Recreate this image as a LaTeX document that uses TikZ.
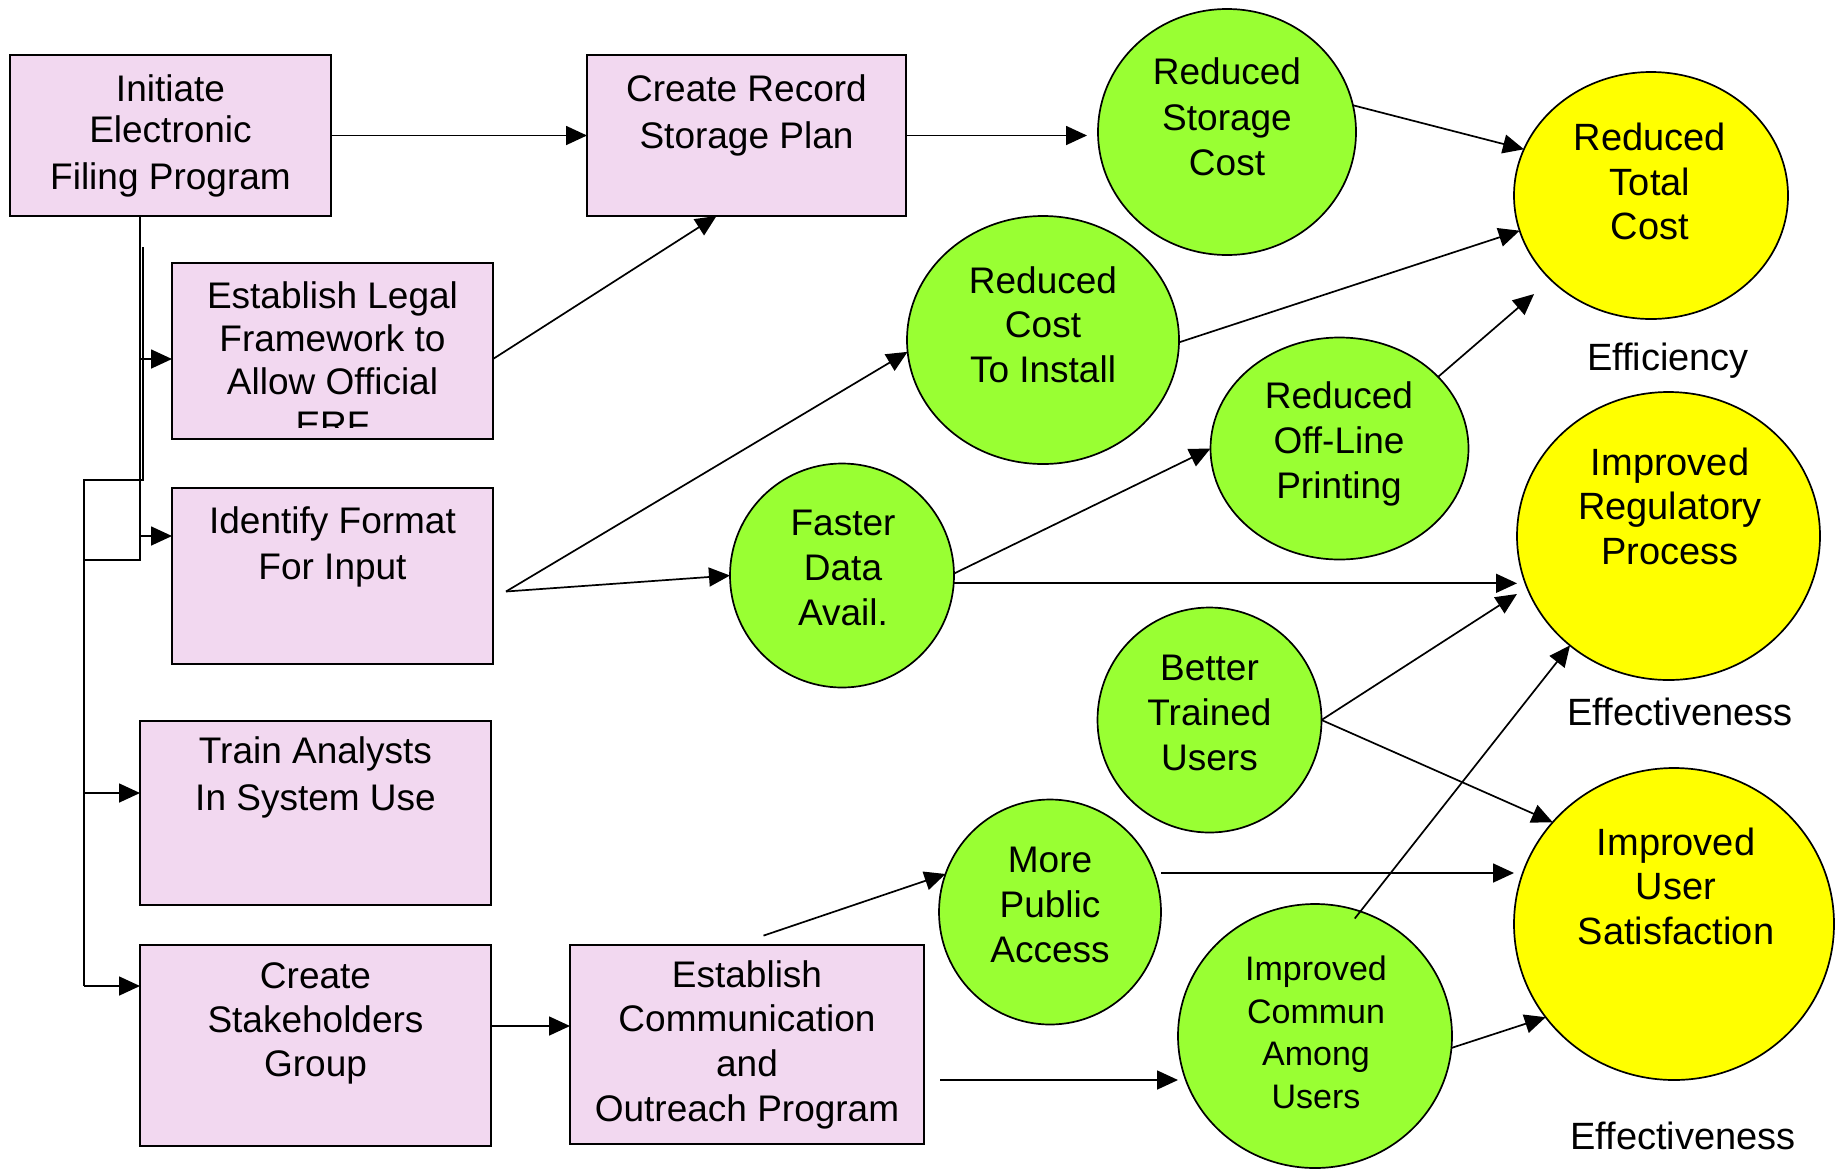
\documentclass[tikz,border=0pt]{standalone}
\usepackage{fontspec}
\setmainfont{Liberation Sans}
\usetikzlibrary{arrows.meta,shapes.geometric}
\definecolor{taskpink}{RGB}{242,216,240}
\definecolor{gainlime}{RGB}{153,255,51}
\definecolor{goalyellow}{RGB}{255,255,0}
\begin{document}
\begin{tikzpicture}[x=1pt,y=-1pt,
  task/.style={draw, fill=taskpink, line width=1.7pt, inner sep=0pt, outer sep=0pt},
  gain/.style={ellipse, draw, fill=gainlime, line width=1.7pt, inner sep=0pt, outer sep=0pt},
  goal/.style={ellipse, draw, fill=goalyellow, line width=1.7pt, inner sep=0pt, outer sep=0pt},
  lbl/.style={align=center, anchor=north, inner sep=0pt, font=\fontsize{37}{#1}\selectfont},
  glbl/.style={align=center, anchor=north, inner sep=0pt, font=\fontsize{38}{#1}\selectfont},
  clbl/.style={align=center, anchor=north, inner sep=0pt, font=\fontsize{34}{#1}\selectfont},
  axis/.style={anchor=base, inner sep=0pt, font=\fontsize{38}{44}\selectfont},
  wire/.style={line width=1.7pt},
  link/.style={line width=1.7pt, -{Triangle[length=21pt,width=19pt]}},
]
\useasboundingbox (0,0) rectangle (1836,1168);

% ---- action boxes ----
\node[task, minimum width=321pt, minimum height=161pt] (init)   at (170.5,135.5) {};
\node[task, minimum width=319pt, minimum height=161pt] (record) at (746.5,135.5) {};
\node[task, minimum width=321pt, minimum height=176pt] (legal)  at (332.5,351) {};
\node[task, minimum width=321pt, minimum height=176pt] (format) at (332.5,576) {};
\node[task, minimum width=351pt, minimum height=184pt] (train)  at (315.5,813) {};
\node[task, minimum width=351pt, minimum height=201pt] (stake)  at (315.5,1045.5) {};
\node[task, minimum width=354pt, minimum height=199pt] (comm)   at (747,1044.5) {};

\node[lbl=41] (init-t)   at (170.5,74.7)  {Initiate\\Electronic\\[6pt]Filing Program};
\node[lbl=47] (record-t) at (746.5,74.5)  {Create Record\\Storage Plan};
\begin{scope}
  \clip (172,263) rectangle (493,427);
  \node[lbl=43] (legal-t) at (332.5,281) {Establish Legal\\Framework to\\Allow Official\\ERF};
\end{scope}
\node[lbl=46] (format-t) at (332.5,506)   {Identify Format\\For Input};
\node[lbl=47] (train-t)  at (315.5,736)   {Train Analysts\\In System Use};
\node[lbl=44] (stake-t)  at (315.5,962)   {Create\\Stakeholders\\Group};
\node[lbl=44.7] (comm-t) at (747,960)     {Establish\\Communication\\and\\Outreach Program};

% ---- intermediate benefits ----
\node[gain, minimum width=258pt, minimum height=246pt] (storage) at (1227,132) {};
\node[gain, minimum width=272pt, minimum height=248pt] (install) at (1043,340) {};
\node[gain, minimum width=258pt, minimum height=222pt] (offline) at (1339.5,448.5) {};
\node[gain, minimum width=224pt, minimum height=224pt] (faster)  at (842,575.5) {};
\node[gain, minimum width=224pt, minimum height=225pt] (trained) at (1209.5,720) {};
\node[gain, minimum width=222pt, minimum height=225pt] (public)  at (1050,912) {};
\node[gain, minimum width=274pt, minimum height=264pt] (commun)  at (1315,1036) {};

\node[lbl=45.7] (storage-t) at (1227,57.4)  {Reduced\\Storage\\Cost};
\node[lbl=44.5] (install-t) at (1043,266)   {Reduced\\Cost\\To Install};
\node[lbl=45]   (offline-t) at (1339,381)   {Reduced\\Off-Line\\Printing};
\node[lbl=45]   (faster-t)  at (843,509.7)  {Faster\\Data\\Avail.};
\node[lbl=45]   (trained-t) at (1209.5,654.6) {Better\\Trained\\Users};
\node[lbl=45]   (public-t)  at (1050,846.7) {More\\Public\\Access};
\node[clbl=42.5] (commun-t) at (1316,956)   {Improved\\Commun\\Among\\Users};

% ---- goals ----
\node[goal, minimum width=274pt, minimum height=247pt] (total)      at (1651,195.5) {};
\node[goal, minimum width=303pt, minimum height=288pt] (regulatory) at (1668.5,536) {};
\node[goal, minimum width=320pt, minimum height=312pt] (usersat)    at (1674,924) {};

\node[glbl=44.5] (total-t)      at (1650,122.8)  {Reduced\\Total\\Cost};
\node[glbl=44.5] (regulatory-t) at (1670,447.3)  {Improved\\Regulatory\\Process};
\node[glbl=44.5] (usersat-t)    at (1676,827.3)  {Improved\\User\\Satisfaction};

\node[axis] (efficiency)  at (1668,370.7) {Efficiency};
\node[axis] (effective-a) at (1680,725)   {Effectiveness};
\node[axis] (effective-b) at (1683,1149)  {Effectiveness};

% ---- branching tree below the first box ----
\coordinate (trunk) at ([xshift=-30.5pt]init.south);
\coordinate (trunk-end) at (140,560);
\coordinate (branch) at (143,247);
\coordinate (branch-end) at (143,480);
\coordinate (spine) at (84,480);
\coordinate (legal-in)  at ([yshift=-8pt]legal.west);
\coordinate (format-in) at ([yshift=40pt]format.west);
\coordinate (train-in)  at ([yshift=20pt]train.west);
\coordinate (stake-in)  at ([yshift=59.5pt]stake.west);

\draw[wire] (trunk) -- (trunk-end) -- (trunk-end -| spine);
\draw[wire] (branch) -- (branch-end) -- (spine) -- (spine |- stake-in);
\draw[link] (trunk |- legal-in) -- (legal-in);
\draw[link] (trunk |- format-in) -- (format-in);
\draw[link] (spine |- train-in) -- (train-in);
\draw[link] (spine |- stake-in) -- (stake-in);

% ---- box to box ----
\draw[link] (init.east) -- (record.west);
\draw[link, shorten >=11pt] (record.east) -- (record.east -| storage.west);
\draw[link] ([yshift=-8pt]legal.east) -- ([xshift=-30pt]record.south);
\coordinate (stake-out) at ([yshift=19.5pt]stake.east);
\draw[link] (stake-out) -- (stake-out -| comm.west);

% ---- input format fans out ----
\coordinate (fork) at (506,591.5);
\draw[link] (fork) -- (install.185);
\draw[link] (fork) -- (faster.west);

% ---- benefits to goals ----
\draw[link] (storage.12) -- (total.160);
\draw[link] (install.-1) -- (total.195);
\draw[link, shorten >=22pt] (offline.36) -- (total.220);
\draw[link] (faster.1) -- (offline.west);
\draw[link] (faster.-4) -- (faster.-4 -| regulatory.west);
\draw[link, shorten >=12pt] (trained.east) -- (regulatory.200);
\draw[link] (trained.east) -- (usersat.140);

\coordinate (comm-up) at ([xshift=16.5pt,yshift=9.4pt]comm.north);
\draw[link] (comm-up) -- (public.160);
\coordinate (public-out) at ([yshift=39pt]public.east);
\draw[link] (public-out) -- (public-out -| usersat.west);
\coordinate (comm-out) at ([xshift=16pt,yshift=-35.5pt]comm.east);
\draw[link] (comm-out) -- (comm-out -| commun.west);
\draw[link, shorten <=-9pt] (commun.70) -- (regulatory.228);
\draw[link] (commun.-5) -- (usersat.216);
\end{tikzpicture}
\end{document}
